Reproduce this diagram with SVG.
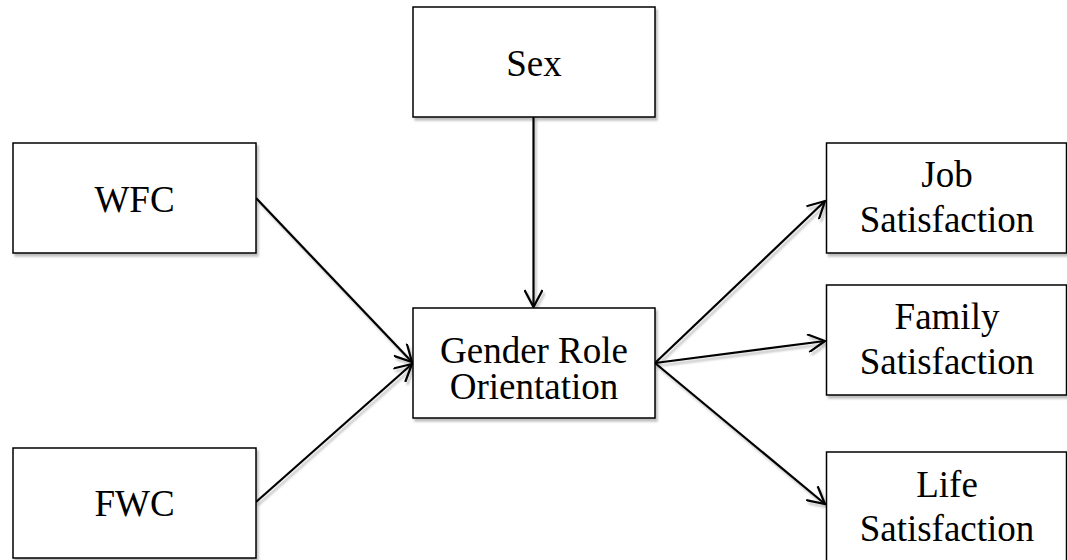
<svg xmlns="http://www.w3.org/2000/svg" width="1067" height="560" viewBox="0 0 1067 560">
<style>
.box{fill:#fff;stroke:#000;stroke-width:1.5}
.lbl{font-family:"Liberation Serif","Times New Roman",serif;font-size:37px;fill:#000;text-anchor:middle}
.conn{stroke:#000;stroke-width:2.2;fill:none}
</style>
<defs>
<filter id="sh" x="-10%" y="-10%" width="130%" height="130%">
<feDropShadow dx="2" dy="3" stdDeviation="1" flood-color="#000" flood-opacity="0.25"/>
</filter>
<marker id="arr" viewBox="0 0 20 19" markerWidth="20" markerHeight="19" markerUnits="userSpaceOnUse" refX="18" refY="9.5" orient="auto">
<path d="M1,0.5 L18,9.5 L1,18.5" fill="none" stroke="#000" stroke-width="2.2"/>
</marker>
</defs>
<rect width="1067" height="560" fill="#fff"/>
<g id="connectors" filter="url(#sh)">
<line class="conn" x1="533.5" y1="117" x2="533.5" y2="307" marker-end="url(#arr)"/>
<line class="conn" x1="256" y1="198" x2="412" y2="362" marker-end="url(#arr)"/>
<line class="conn" x1="256" y1="502" x2="412" y2="364" marker-end="url(#arr)"/>
<line class="conn" x1="655" y1="363" x2="825" y2="201" marker-end="url(#arr)"/>
<line class="conn" x1="655" y1="363" x2="825" y2="341" marker-end="url(#arr)"/>
<line class="conn" x1="655" y1="363" x2="825" y2="504" marker-end="url(#arr)"/>
</g>
<g id="sex"><rect class="box" filter="url(#sh)" x="413" y="7" width="242" height="110"/><text class="lbl" x="534" y="76">Sex</text></g>
<g id="wfc"><rect class="box" filter="url(#sh)" x="13" y="143" width="243" height="110"/><text class="lbl" x="134.5" y="212">WFC</text></g>
<g id="fwc"><rect class="box" filter="url(#sh)" x="13" y="448" width="243" height="110"/><text class="lbl" x="134.5" y="516">FWC</text></g>
<g id="gender"><rect class="box" filter="url(#sh)" x="413" y="308" width="242" height="110"/><text class="lbl" x="534" y="363">Gender Role</text><text class="lbl" x="534" y="399">Orientation</text></g>
<g id="job"><rect class="box" filter="url(#sh)" x="826.5" y="143" width="240" height="110"/><text class="lbl" x="947" y="187">Job</text><text class="lbl" x="947" y="232">Satisfaction</text></g>
<g id="family"><rect class="box" filter="url(#sh)" x="826.5" y="285" width="240" height="110"/><text class="lbl" x="947" y="329">Family</text><text class="lbl" x="947" y="374">Satisfaction</text></g>
<g id="life"><rect class="box" filter="url(#sh)" x="826.5" y="452" width="240" height="115"/><text class="lbl" x="947" y="497">Life</text><text class="lbl" x="947" y="541">Satisfaction</text></g>
</svg>
